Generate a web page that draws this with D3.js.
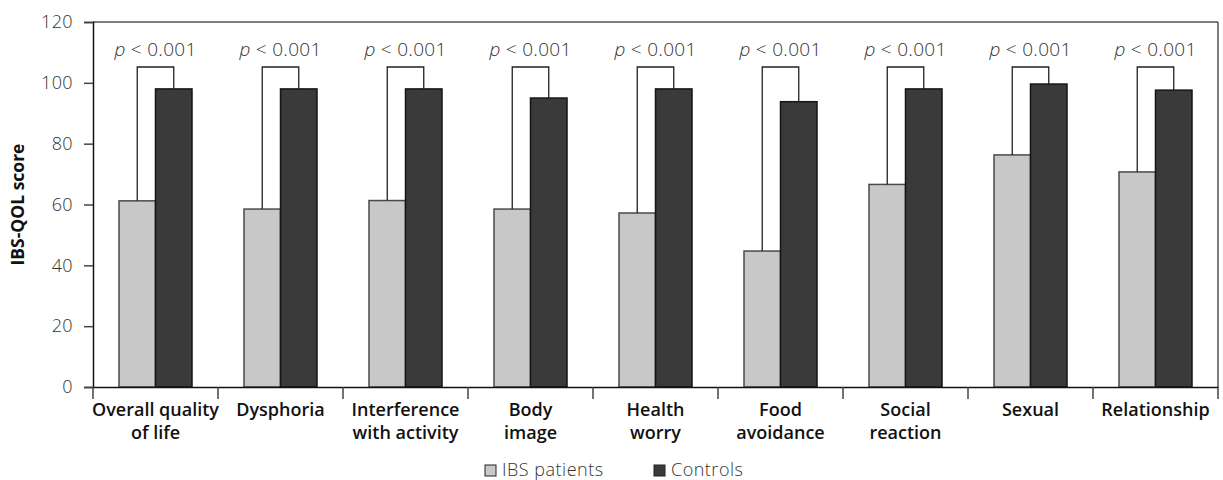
<!DOCTYPE html>
<html>
<head>
<meta charset="utf-8">
<script src="https://cdn.jsdelivr.net/npm/d3@7"></script>
<style>
  html, body { margin: 0; padding: 0; background: #fff; }
  svg { display: block; }
</style>
</head>
<body>
<svg id="chart" width="1223" height="480"></svg>
<script>
const categories = [
  "Overall quality\nof life", "Dysphoria", "Interference\nwith activity", "Body\nimage",
  "Health\nworry", "Food\navoidance", "Social\nreaction", "Sexual", "Relationship"
];
const ibsPatients = [61.2, 58.5, 61.3, 58.5, 57.2, 44.7, 66.6, 76.3, 70.7];
const controls = [98.0, 98.0, 98.0, 95.0, 98.0, 93.8, 98.0, 99.6, 97.6];
const pLabels = ["< 0.001", "< 0.001", "< 0.001", "< 0.001", "< 0.001", "< 0.001", "< 0.001", "< 0.001", "< 0.001"];
const bracketLevel = 105.2;
const yTicks = [0, 20, 40, 60, 80, 100, 120];
const seriesNames = ["IBS patients", "Controls"];
const seriesColors = ["#c8c8c8", "#3a3a3a"];
const seriesStrokes = ["#4a4a4a", "#151515"];

const W = 1223, H = 480;
const margin = { top: 22, right: 5, bottom: 93, left: 93 };
const svg = d3.select("#chart");
const x0 = d3.scaleBand().domain(categories).range([margin.left, W - margin.right]).paddingInner(0).paddingOuter(0);
const x1 = d3.scaleBand().domain(seriesNames).range([0, x0.bandwidth()]).paddingInner(0).paddingOuter(0.712);
const y = d3.scaleLinear().domain([0, 120]).range([H - margin.bottom, margin.top]);

const tickFont = "'Open Sans', sans-serif";

// frame top and right
svg.append("line").attr("x1", margin.left).attr("x2", W - margin.right)
  .attr("y1", y(120)).attr("y2", y(120)).attr("stroke", "#555").attr("stroke-width", 1.5);
svg.append("line").attr("x1", W - margin.right).attr("x2", W - margin.right)
  .attr("y1", y(120)).attr("y2", y(0)).attr("stroke", "#555").attr("stroke-width", 1.5);

// y axis
const yAxis = svg.append("g").attr("transform", `translate(${margin.left},0)`)
  .call(d3.axisLeft(y).tickValues(yTicks).tickSize(9).tickPadding(11));
yAxis.select(".domain").attr("stroke", "#111").attr("stroke-width", 1.5);
yAxis.selectAll(".tick line").attr("stroke", "#444").attr("stroke-width", 1.5);
yAxis.selectAll(".tick text").attr("font-family", tickFont).attr("font-size", 18)
  .attr("font-weight", 300).attr("fill", "#333").attr("letter-spacing", 0.4);

// bars
const groups = svg.append("g").selectAll("g").data(categories).join("g")
  .attr("transform", d => `translate(${x0(d)},0)`);
groups.each(function(cat, i) {
  const g = d3.select(this);
  const vals = [ibsPatients[i], controls[i]];
  vals.forEach((v, s) => {
    g.append("rect")
      .attr("x", x1(seriesNames[s]))
      .attr("y", y(v))
      .attr("width", x1.bandwidth())
      .attr("height", y(0) - y(v))
      .attr("fill", seriesColors[s])
      .attr("stroke", seriesStrokes[s])
      .attr("stroke-width", 1.5);
  });
  // bracket
  const xa = x1(seriesNames[0]) + x1.bandwidth() / 2;
  const xb = x1(seriesNames[1]) + x1.bandwidth() / 2;
  g.append("path")
    .attr("d", `M${xa},${y(vals[0])} V${y(bracketLevel)} H${xb} V${y(vals[1])}`)
    .attr("fill", "none").attr("stroke", "#222").attr("stroke-width", 1.3);
  // p label
  const t = g.append("text")
    .attr("x", x0.bandwidth() / 2)
    .attr("y", 56)
    .attr("text-anchor", "middle")
    .attr("font-family", tickFont).attr("font-size", 19).attr("font-weight", 300)
    .attr("fill", "#333").attr("letter-spacing", 0.3);
  t.append("tspan").attr("font-style", "italic").text("p");
  t.append("tspan").text(" " + pLabels[i]);
});

// x axis
const xAxis = svg.append("g").attr("transform", `translate(0,${y(0)})`)
  .call(d3.axisBottom(x0).tickSize(0).tickFormat(""));
xAxis.select(".domain").attr("stroke", "#111").attr("stroke-width", 1.5);
xAxis.selectAll(".tick").remove();
// boundary ticks
const boundaries = categories.map(c => x0(c)).concat([x0.range()[1]]);
svg.append("g").selectAll("line").data(boundaries).join("line")
  .attr("x1", d => d).attr("x2", d => d)
  .attr("y1", y(0)).attr("y2", y(0) + 12)
  .attr("stroke", "#444").attr("stroke-width", 1.5);

// category labels
const labG = svg.append("g").selectAll("text").data(categories).join("text")
  .attr("text-anchor", "middle")
  .attr("font-family", tickFont).attr("font-size", 18).attr("font-weight", 600)
  .attr("fill", "#111")
  .attr("transform", d => `translate(${x0(d) + x0.bandwidth() / 2},${y(0)})`);
labG.each(function(d) {
  const lines = d.split("\n");
  const t = d3.select(this);
  lines.forEach((ln, k) => {
    t.append("tspan").attr("x", 0).attr("y", 29 + k * 23).text(ln);
  });
});

// y title
svg.append("text")
  .attr("transform", `translate(24,${(y(0) + y(120)) / 2}) rotate(-90)`)
  .attr("text-anchor", "middle")
  .attr("font-family", tickFont).attr("font-size", 17.5).attr("font-weight", 700)
  .attr("fill", "#111")
  .text("IBS-QOL score");

// legend
const legendX = [485, 654];
const leg = svg.append("g").selectAll("g").data(seriesNames).join("g")
  .attr("transform", (d, i) => `translate(${legendX[i]},465)`);
leg.append("rect").attr("width", 11).attr("height", 11)
  .attr("fill", (d, i) => seriesColors[i]).attr("stroke", "#222").attr("stroke-width", 1);
leg.append("text").attr("x", 17).attr("y", 11)
  .attr("font-family", tickFont).attr("font-size", 18).attr("font-weight", 300)
  .attr("fill", "#333").attr("letter-spacing", 0.5).text(d => d);
</script>
</body>
</html>
